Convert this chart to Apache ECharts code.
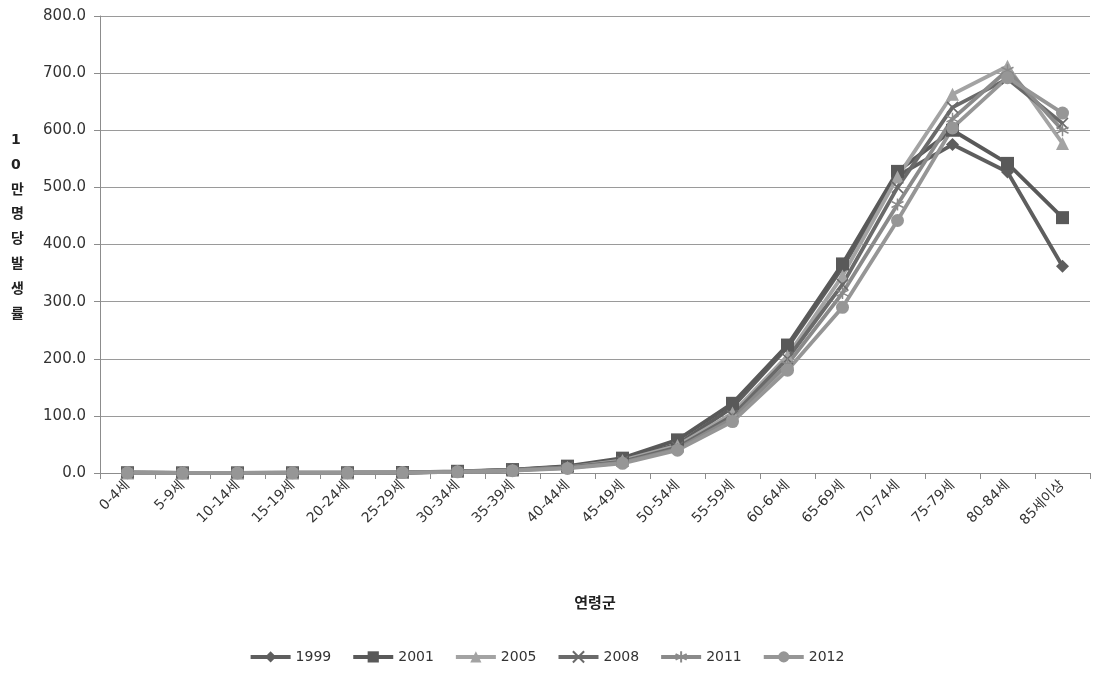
<!DOCTYPE html>
<html>
<head>
<meta charset="utf-8">
<script src="https://cdn.jsdelivr.net/npm/echarts@6/dist/echarts.min.js"></script>
<style>
  html, body { margin: 0; padding: 0; background: #fff; }
  #chart { width: 1093px; height: 673px; }
</style>
</head>
<body>
<div id="chart"></div>
<script>
// Age groups (연령군)
const ageGroups = ['0-4세','5-9세','10-14세','15-19세','20-24세','25-29세','30-34세','35-39세','40-44세','45-49세','50-54세','55-59세','60-64세','65-69세','70-74세','75-79세','80-84세','85세이상'];

// Incidence per 100,000 by survey year
const y1999 = [0.5,0.3,0.3,0.4,0.5,0.8,2.5,5.5,11,24,50,115,220,360,520,575,527,362];
const y2001 = [0.5,0.3,0.3,0.4,0.5,0.9,3,6,12,26,58,122,224,366,528,600,542,447];
const y2005 = [0.4,0.2,0.3,0.3,0.4,0.8,2.5,5,10,22,48,105,205,345,518,663,712,577];
const y2008 = [0.4,0.2,0.3,0.3,0.4,0.8,2.5,5,10,20,45,100,200,330,500,640,690,612];
const y2011 = [0.4,0.2,0.3,0.3,0.4,0.7,2,4.5,9,18,42,95,190,315,470,620,705,600];
const y2012 = [0.4,0.2,0.2,0.3,0.4,0.7,2,4,8,17,40,90,180,290,442,604,692,630];

const yTicks = [0,100,200,300,400,500,600,700,800];
const yTitle = '10만명당발생률';
const xTitle = '연령군';

const FONT = '"DejaVu Sans", "Noto Sans CJK KR", sans-serif';

// Cross (×) and asterisk marker shapes
const crossPath = 'path://M0,0 L10,10 M10,0 L0,10';
const starPath = 'path://M5,0 L5,10 M0,2.5 L10,7.5 M10,2.5 L0,7.5';

function mkSeries(name, data, color, symbol, size, extra) {
  return Object.assign({
    name: name,
    type: 'line',
    data: data,
    symbol: symbol,
    symbolSize: size,
    lineStyle: { color: color, width: 3.8 },
    itemStyle: { color: color, borderColor: color, borderWidth: 0 },
    emphasis: { disabled: true },
    animation: false
  }, extra || {});
}

const series = [
  mkSeries('1999', y1999, '#5e5e5e', 'diamond', 13),
  mkSeries('2001', y2001, '#595959', 'rect', 13),
  mkSeries('2005', y2005, '#a3a3a3', 'triangle', 13),
  mkSeries('2008', y2008, '#6a6a6a', crossPath, 11, { itemStyle: { color: 'none', borderColor: '#6a6a6a', borderWidth: 1.5 } }),
  mkSeries('2011', y2011, '#8a8a8a', starPath, 12, { itemStyle: { color: 'none', borderColor: '#8a8a8a', borderWidth: 1.5 } }),
  mkSeries('2012', y2012, '#969696', 'circle', 13)
];

const chart = echarts.init(document.getElementById('chart'), null, { renderer: 'canvas' });
chart.setOption({
  backgroundColor: '#fff',
  animation: false,
  textStyle: { fontFamily: FONT },
  grid: { left: 100, right: 3, top: 16, bottom: 200, containLabel: false },
  legend: {
    bottom: 3,
    left: 'center',
    itemWidth: 40,
    itemHeight: 14,
    itemGap: 20,
    lineStyle: { width: 4 },
    textStyle: { fontFamily: FONT, fontSize: 14, color: '#333' },
    data: series.map(s => s.name)
  },
  // Vertical y-axis title, one character per line
  graphic: [{
    type: 'text',
    left: 11,
    top: 128,
    style: {
      text: yTitle.split('').join('\n'),
      font: 'bold 14px ' + FONT,
      fill: '#222',
      lineHeight: 24.8,
      align: 'center'
    }
  }],
  xAxis: {
    type: 'category',
    data: ageGroups,
    boundaryGap: true,
    name: xTitle,
    nameLocation: 'middle',
    nameGap: 124,
    nameTextStyle: { fontFamily: FONT, fontSize: 15, fontWeight: 'bold', color: '#222' },
    axisLine: { lineStyle: { color: '#8c8c8c', width: 1 } },
    axisTick: { show: true, length: 6, lineStyle: { color: '#8c8c8c' } },
    axisLabel: { interval: 0, rotate: 45, fontSize: 14, color: '#333', fontFamily: FONT, margin: 10 },
    splitLine: { show: false }
  },
  yAxis: {
    type: 'value',
    min: yTicks[0],
    max: yTicks[yTicks.length - 1],
    interval: yTicks[1] - yTicks[0],
    axisLine: { show: true, lineStyle: { color: '#8c8c8c', width: 1 } },
    axisTick: { show: true, length: 6, inside: false, lineStyle: { color: '#8c8c8c' } },
    axisLabel: { fontSize: 15, color: '#333', fontFamily: FONT, margin: 14, formatter: v => v.toFixed(1) },
    splitLine: { show: true, lineStyle: { color: '#9a9a9a', width: 1 } }
  },
  series: series
});
</script>
</body>
</html>
